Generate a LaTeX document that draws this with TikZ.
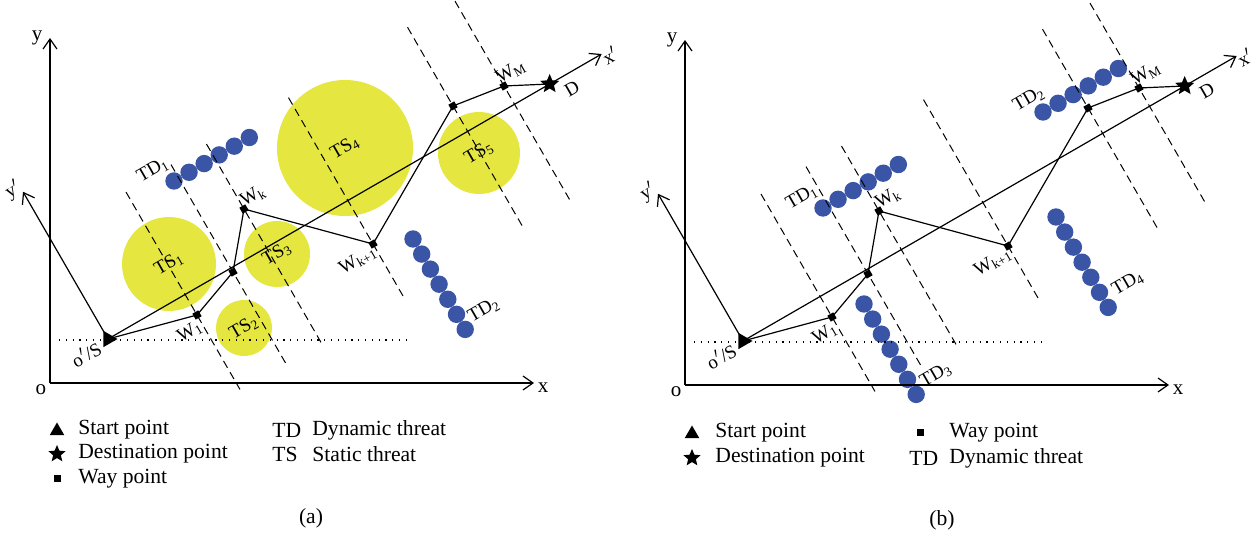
\documentclass[tikz,border=0pt]{standalone}
\usepackage{fontspec}
\setmainfont{Liberation Serif}
\usetikzlibrary{calc,shapes.geometric,arrows.meta}
\definecolor{tsyellow}{RGB}{229,231,64}
\definecolor{tdblue}{RGB}{58,85,166}

\begin{document}
\begin{tikzpicture}[
    x=0.5pt, y=0.5pt,
    axis/.style={line width=0.6pt, -{Straight Barb[length=5pt,width=7pt]}},
    route/.style={line width=0.6pt},
    guide/.style={line width=0.5pt, dash pattern=on 4pt off 2.5pt},
    level/.style={line width=0.6pt, dash pattern=on 0.6pt off 2.8pt},
    wp/.style={rectangle, fill=black, inner sep=0pt, minimum size=3.4pt, rotate=30},
    startpt/.style={regular polygon, regular polygon sides=3, fill=black, inner sep=0pt, minimum size=9.5pt, rotate=-90},
    endpt/.style={star, star points=5, star point ratio=2.2, fill=black, inner sep=0pt, minimum size=10pt},
    legtri/.style={regular polygon, regular polygon sides=3, fill=black, inner sep=0pt, minimum size=8.5pt},
    legstar/.style={star, star points=5, star point ratio=2.2, fill=black, inner sep=0pt, minimum size=9pt},
    legsq/.style={rectangle, fill=black, inner sep=0pt, minimum size=3.5pt},
    tsdisk/.style={circle, fill=tsyellow, inner sep=0pt, rotate=30, font=\fontsize{9.5}{11}\selectfont},
    tddisk/.style={circle, fill=tdblue, inner sep=0pt, minimum size=8.7pt},
    lbl/.style={font=\fontsize{9.5}{11}\selectfont, inner sep=0pt, rotate=30},
    axlbl/.style={font=\fontsize{10.5}{12}\selectfont, inner sep=0pt},
    legtext/.style={font=\fontsize{10.8}{13}\selectfont, inner sep=0pt, anchor=west}
]
\useasboundingbox (0,0) rectangle (1258,540);

% Threats, panel (a)
\node[tsdisk, minimum size=47pt] (TS1) at (169,276) {TS\textsubscript{1}};
\node[tsdisk, minimum size=28pt] (TS2) at (244,212) {TS\textsubscript{2}};
\node[tsdisk, minimum size=33pt] (TS3) at (277,286) {TS\textsubscript{3}};
\node[tsdisk, minimum size=68pt] (TS4) at (345,392) {TS\textsubscript{4}};
\node[tsdisk, minimum size=41pt] (TS5) at (479,387) {TS\textsubscript{5}};
\foreach \i in {0,...,5}
  \node[tddisk] (a-td1-\i) at ($(174,359)+(30:{\i*17.4})$) {};
\foreach \i in {0,...,6}
  \node[tddisk] (a-td2-\i) at ($(413,301)+(-60:{\i*17.4})$) {};
\node[lbl] (a-td1lab) at (153,370) {TD\textsubscript{1}};
\node[lbl] (a-td2lab) at (484,230) {TD\textsubscript{2}};

% Threats, panel (b)
\begin{scope}[shift={(635,-2)}]
\foreach \i in {0,...,5}
  \node[tddisk] (b-td1-\i) at ($(188,334)+(30:{\i*17.4})$) {};
\foreach \i in {0,...,5}
  \node[tddisk] (b-td2-\i) at ($(408,430)+(30:{\i*17.4})$) {};
\foreach \i in {0,...,6}
  \node[tddisk] (b-td3-\i) at ($(229,238)+(-60:{\i*17.4})$) {};
\foreach \i in {0,...,6}
  \node[tddisk] (b-td4-\i) at ($(421,325)+(-60:{\i*17.4})$) {};
\node[lbl] (b-td1lab) at (167,345) {TD\textsubscript{1}};
\node[lbl] (b-td2lab) at (394,443) {TD\textsubscript{2}};
\node[lbl] (b-td3lab) at (301,167) {TD\textsubscript{3}};
\node[lbl] (b-td4lab) at (493,259) {TD\textsubscript{4}};
\end{scope}

% Frame, guides and route (same in both panels)
\foreach \p/\dx/\dy in {a/0/0, b/635/-2}{
\begin{scope}[shift={(\dx,\dy)}, name prefix=\p-]
  \coordinate (O) at (50,157);
  \coordinate (ytip) at (50,502);
  \coordinate (xtip) at (534,157);
  \draw[axis] (O) -- (ytip);
  \draw[axis] (O) -- (xtip);
  \node[axlbl] (ylab) at (37,502) {y};
  \node[axlbl] (xlab) at (543,152) {x};
  \node[axlbl] (olab) at (41,150) {o};

  \coordinate (lvl0) at (59,200);
  \coordinate (lvl1) at (406,200);
  \draw[level] (lvl0) -- (lvl1);

  \coordinate (S) at (108,201);
  \coordinate (xptip) at ($(S)+(30:570)$);
  \coordinate (yptip) at ($(S)+(120:170)$);
  \draw[axis] (S) -- (xptip);
  \draw[axis] (S) -- (yptip);

  \node[wp] (W1) at (197,225) {};
  \node[wp] (P2) at (233,268) {};
  \node[wp] (Wk) at (244,331) {};
  \node[wp] (Wk1) at (373,296) {};
  \node[wp] (P5) at (453,434) {};
  \node[wp] (WM) at (504,454) {};
  \node[endpt] (D) at ($(S)+(30:510)$) {};

  \foreach \n/\up/\dn in {W1/142/86, P2/124/105, Wk/75/154, Wk1/169/60, P5/91/139, WM/98/131}
    \draw[guide] ($(\n)+(120:\up)$) -- ($(\n)+(-60:\dn)$);

  \draw[route] (S) -- (W1.center) -- (P2.center) -- (Wk.center) -- (Wk1.center)
    -- (P5.center) -- (WM.center) -- (D.center);
  \node[startpt] (Sm) at (S) {};

  \node[lbl] (W1lab) at (190,208) {W\textsubscript{1}};
  \node[lbl] (Wklab) at (253,344) {W\textsubscript{k}};
  \node[lbl] (Wk1lab) at (358,280) {W\textsubscript{k+1}};
  \node[lbl] (WMlab) at (511,468) {W\textsubscript{M}};
  \node[lbl] (Dlab) at (572,451) {D};
  \node[lbl] (xplab) at (610,485) {x$'$};
  \node[lbl] (yplab) at (13,350) {y$'$};
  \node[lbl] (Slab) at (86,186) {o$'$/S};
\end{scope}
}

% Legend, panel (a)
\node[legtri] (a-lgS) at (57,109) {};
\node[legtext] (a-lgStxt) at (78,110) {Start point};
\node[legstar] (a-lgD) at (57,86) {};
\node[legtext] (a-lgDtxt) at (78,86) {Destination point};
\node[legsq] (a-lgW) at (57,61) {};
\node[legtext] (a-lgWtxt) at (78,61) {Way point};
\node[legtext] (a-lgTD) at (272,110) {TD};
\node[legtext] (a-lgTDtxt) at (312,110) {Dynamic threat};
\node[legtext] (a-lgTS) at (272,86) {TS};
\node[legtext] (a-lgTStxt) at (312,86) {Static threat};
\node[axlbl, font=\fontsize{10.8}{13}\selectfont] (a-cap) at (311,22) {(a)};

% Legend, panel (b)
\node[legtri] (b-lgS) at (692,106) {};
\node[legtext] (b-lgStxt) at (715,107) {Start point};
\node[legstar] (b-lgD) at (692,82) {};
\node[legtext] (b-lgDtxt) at (715,82) {Destination point};
\node[legsq] (b-lgW) at (920,107) {};
\node[legtext] (b-lgWtxt) at (949,107) {Way point};
\node[legtext] (b-lgTD) at (909,82) {TD};
\node[legtext] (b-lgTDtxt) at (949,82) {Dynamic threat};
\node[axlbl, font=\fontsize{10.8}{13}\selectfont] (b-cap) at (942,20) {(b)};

\end{tikzpicture}
\end{document}
